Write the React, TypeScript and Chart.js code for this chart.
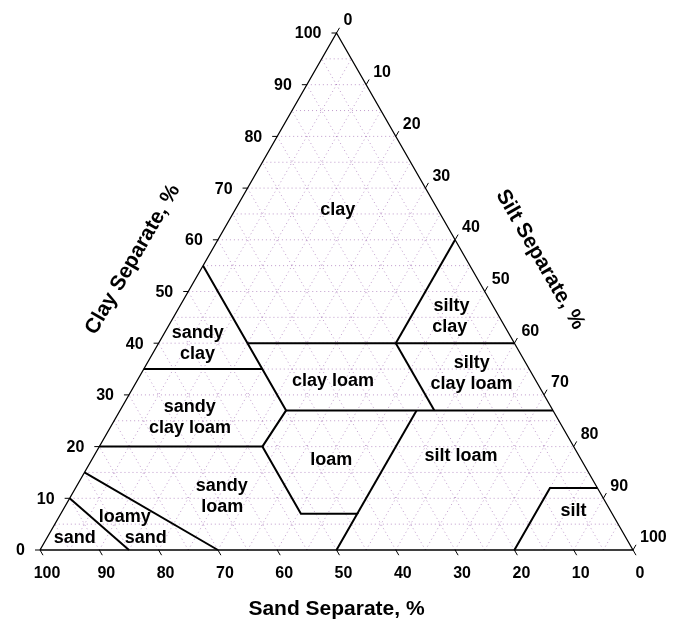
import { useEffect, useRef } from "react";
import { Chart, registerables } from "chart.js";

Chart.register(...registerables);

// ---- data (ternary coordinates as [sand %, clay %]; silt = 100 - sand - clay) ----
const AXIS_TICKS = [0, 10, 20, 30, 40, 50, 60, 70, 80, 90, 100];
const GRID_STEPS = [5, 10, 15, 20, 25, 30, 35, 40, 45, 50, 55, 60, 65, 70, 75, 80, 85, 90, 95];

const TRIANGLE = [[100, 0], [0, 0], [0, 100], [100, 0]];
const SAND_LINE = [[90, 10], [85, 0]];
const LOAMY_SAND_LINE = [[85, 15], [70, 0]];
const SANDY_LOAM_LINE = [[80, 20], [52.5, 20], [52.5, 7], [43, 7], [50, 0]];
const LOAM_SILT_LOAM_LINE = [[43, 7], [23, 27]];
const SANDY_CLAY_LOAM_LINE = [[52.5, 20], [45, 27], [45, 55]];
const CLAY_27_LINE = [[45, 27], [0, 27]];
const CLAY_35_LINE = [[65, 35], [45, 35]];
const CLAY_40_LINE = [[45, 40], [0, 40]];
const SILTY_CLAY_LINE = [[20, 40], [0, 60]];
const SILTY_CLAY_LOAM_LINE = [[20, 40], [20, 27]];
const SILT_LINE = [[20, 0], [8, 12], [0, 12]];

const BOUNDARIES = [
  SAND_LINE,
  LOAMY_SAND_LINE,
  SANDY_LOAM_LINE,
  LOAM_SILT_LOAM_LINE,
  SANDY_CLAY_LOAM_LINE,
  CLAY_27_LINE,
  CLAY_35_LINE,
  CLAY_40_LINE,
  SILTY_CLAY_LINE,
  SILTY_CLAY_LOAM_LINE,
  SILT_LINE,
];

// region label lines: text, and anchor as [sand %, clay %]
const REGION_TEXT = [
  "clay",
  "silty", "clay",
  "silty", "clay loam",
  "clay loam",
  "sandy", "clay",
  "sandy", "clay loam",
  "loam",
  "silt loam",
  "sandy", "loam",
  "loamy", "sand",
  "sand",
  "silt",
];
const REGION_SAND = [
  16.9,
  7.0, 9.3,
  9.1, 11.2,
  34.3,
  52.4, 54.5,
  60.9, 62.9,
  42.2,
  19.9,
  63.2, 65.1,
  82.5, 81.0,
  93.0,
  6.3,
];
const REGION_CLAY = [
  65.8,
  47.2, 43.2,
  36.2, 32.1,
  32.6,
  42.0, 37.9,
  27.7, 23.6,
  17.4,
  18.2,
  12.3, 8.3,
  6.4, 2.3,
  2.3,
  7.5,
];

const FONT = "'Liberation Sans', Arial, Helvetica, sans-serif";

const toXY = (p: number[]) => ({ x: 100 - p[0] - p[1] / 2, y: p[1] });

const ternaryPlugin = {
  id: "ternary",
  beforeDatasetsDraw(chart: any) {
    const { ctx } = chart;
    const xs = chart.scales.x;
    const ys = chart.scales.y;
    const px = (sand: number, clay: number) => {
      const q = toXY([sand, clay]);
      return [xs.getPixelForValue(q.x), ys.getPixelForValue(q.y)];
    };
    ctx.save();
    ctx.strokeStyle = "rgba(150, 90, 170, 0.6)";
    ctx.lineWidth = 1;
    ctx.setLineDash([1, 3]);
    const seg = (a: number[], b: number[]) => {
      ctx.beginPath();
      ctx.moveTo(a[0], a[1]);
      ctx.lineTo(b[0], b[1]);
      ctx.stroke();
    };
    for (const k of GRID_STEPS) {
      seg(px(100 - k, k), px(0, k)); // constant clay
      seg(px(k, 0), px(k, 100 - k)); // constant sand
      seg(px(100 - k, 0), px(0, 100 - k)); // constant silt
    }
    ctx.restore();
  },
  afterDraw(chart: any) {
    const { ctx } = chart;
    const xs = chart.scales.x;
    const ys = chart.scales.y;
    const px = (sand: number, clay: number) => {
      const q = toXY([sand, clay]);
      return [xs.getPixelForValue(q.x), ys.getPixelForValue(q.y)];
    };
    ctx.save();
    ctx.strokeStyle = "#000";
    ctx.fillStyle = "#000";
    ctx.lineWidth = 1;
    ctx.font = `bold 16px ${FONT}`;
    const c60 = Math.cos(Math.PI / 3);
    const s60 = Math.sin(Math.PI / 3);
    for (const v of AXIS_TICKS) {
      // clay (left edge)
      let [x, y] = px(100 - v, v);
      ctx.beginPath();
      ctx.moveTo(x, y);
      ctx.lineTo(x - 5, y);
      ctx.stroke();
      ctx.textAlign = "right";
      ctx.textBaseline = "middle";
      ctx.fillText(String(v), x - 15, y + 1);
      // silt (right edge): silt v -> clay 100 - v, sand 0
      [x, y] = px(0, 100 - v);
      ctx.beginPath();
      ctx.moveTo(x, y);
      ctx.lineTo(x + 6 * c60, y - 6 * s60);
      ctx.stroke();
      ctx.textAlign = "left";
      ctx.fillText(String(v), x + 7, y - 12);
      // sand (bottom edge)
      [x, y] = px(v, 0);
      ctx.beginPath();
      ctx.moveTo(x, y);
      ctx.lineTo(x + 6 * c60, y + 6 * s60);
      ctx.stroke();
      ctx.textAlign = "center";
      ctx.fillText(String(v), x + 7, y + 24);
    }

    // region labels
    ctx.font = `bold 18px ${FONT}`;
    ctx.textAlign = "center";
    ctx.textBaseline = "middle";
    REGION_TEXT.forEach((t, i) => {
      const [x, y] = px(REGION_SAND[i], REGION_CLAY[i]);
      ctx.fillText(t, x, y);
    });

    // axis titles
    ctx.font = `bold 21px ${FONT}`;
    const [lx, ly] = px(50, 50);
    ctx.save();
    ctx.translate(lx - 64 * s60, ly - 64 * c60);
    ctx.rotate(-Math.PI / 3);
    ctx.fillText("Clay Separate, %", 0, 0);
    ctx.restore();
    const [rx, ry] = px(0, 50);
    ctx.save();
    ctx.translate(rx + 64 * s60, ry - 64 * c60);
    ctx.rotate(Math.PI / 3);
    ctx.fillText("Silt Separate, %", 0, 0);
    ctx.restore();
    const [bx, by] = px(50, 0);
    ctx.fillText("Sand Separate, %", bx, by + 59);
    ctx.restore();
  },
};

export default function App() {
  const canvasRef = useRef<HTMLCanvasElement | null>(null);

  useEffect(() => {
    if (!canvasRef.current) return;
    const datasets: any[] = [
      {
        data: TRIANGLE.map(toXY),
        borderColor: "#000",
        borderWidth: 1.3,
        pointRadius: 0,
        showLine: true,
        fill: false,
        clip: false,
      },
      ...BOUNDARIES.map((b) => ({
        data: b.map(toXY),
        borderColor: "#000",
        borderWidth: 2,
        pointRadius: 0,
        showLine: true,
        fill: false,
        clip: false,
      })),
    ];
    const chart = new Chart(canvasRef.current, {
      type: "scatter",
      data: { datasets },
      options: {
        animation: false,
        responsive: true,
        maintainAspectRatio: false,
        devicePixelRatio: 1,
        layout: { padding: { left: 40, right: 48, top: 33, bottom: 71 } },
        scales: {
          x: { type: "linear", min: 0, max: 100, display: false },
          y: { type: "linear", min: 0, max: 100, display: false },
        },
        plugins: {
          legend: { display: false },
          tooltip: { enabled: false },
        },
        events: [],
      },
      plugins: [ternaryPlugin],
    });
    return () => chart.destroy();
  }, []);

  return (
    <div style={{ position: "absolute", left: 0, top: 0, width: 681, height: 621, background: "#fff" }}>
      <canvas ref={canvasRef} />
    </div>
  );
}
